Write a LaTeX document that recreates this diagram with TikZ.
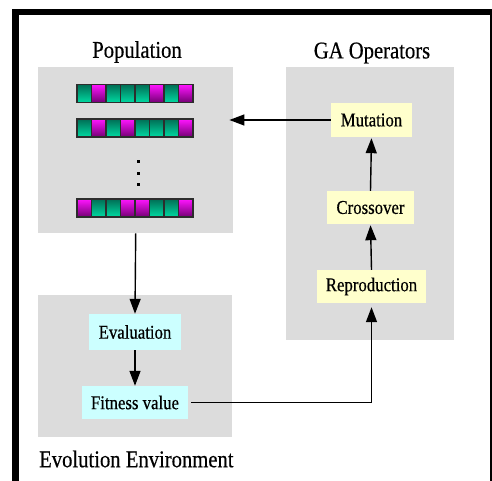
\documentclass[tikz,border=0pt]{standalone}
\usepackage{fontspec}
\setmainfont{Liberation Serif}[FakeBold=0.5]
\usetikzlibrary{arrows.meta,calc}
\definecolor{panelgray}{RGB}{220,220,220}
\definecolor{opyellow}{RGB}{255,255,204}
\definecolor{envcyan}{RGB}{204,255,255}
\definecolor{gtop}{RGB}{0,110,85}
\definecolor{gbot}{RGB}{0,218,162}
\definecolor{mtop}{RGB}{255,20,255}
\definecolor{mbot}{RGB}{115,0,115}
\definecolor{celledge}{RGB}{45,45,45}
\newcommand{\narrowtxt}[1]{\scalebox{0.86}[1]{#1}}
\tikzset{
  panel/.style={fill=panelgray, draw=none, inner sep=0pt, anchor=north west},
  paneltitle/.style={font=\fontsize{24}{28}\selectfont, inner sep=0pt},
  opbox/.style={fill=opyellow, draw=none, inner sep=0pt, font=\fontsize{19.5}{22}\selectfont},
  envbox/.style={fill=envcyan, draw=none, inner sep=0pt, font=\fontsize{19.5}{22}\selectfont},
  flow/.style={line width=1.4pt, -{Triangle[length=15pt,width=11pt]}},
  gcell/.style={top color=gtop, bottom color=gbot, draw=celledge, line width=1.4pt},
  mcell/.style={top color=mtop, bottom color=mbot, draw=celledge, line width=1.4pt},
}
\begin{document}
\begin{tikzpicture}[x=1pt,y=-1pt]
\useasboundingbox (0,0) rectangle (492,481);
% frame
\fill[black] (12,9) rectangle (491.5,15.5);
\fill[black] (12,9) rectangle (19,481);
\fill[black] (489.5,9) rectangle (491.5,481);

% panels
\node[panel, minimum width=195pt, minimum height=166pt] (pop) at (38,67) {};
\node[panel, minimum width=168pt, minimum height=273pt] (ga) at (286,67) {};
\node[panel, minimum width=194pt, minimum height=142pt] (env) at (38,295) {};

% titles
\node[paneltitle] (popt) at (137,52) {\narrowtxt{Population}};
\node[paneltitle] (gat) at (372,53) {\narrowtxt{GA Operators}};
\node[paneltitle, anchor=west] (envt) at (39,459) {\narrowtxt{Evolution Environment}};

% operator boxes
\node[opbox, minimum width=81pt, minimum height=34pt] (mut) at (371.5,120) {\narrowtxt{Mutation}};
\node[opbox, minimum width=87pt, minimum height=33pt] (cross) at (370.5,207.5) {\narrowtxt{Crossover}};
\node[opbox, minimum width=109pt, minimum height=33pt] (repro) at (371.5,286.5) {\narrowtxt{Reproduction}};

% environment boxes
\node[envbox, minimum width=92pt, minimum height=36pt] (eval) at (135,332) {\narrowtxt{Evaluation}};
\node[envbox, minimum width=106pt, minimum height=33pt] (fit) at (135,402.5) {\narrowtxt{Fitness value}};

% chromosomes
\foreach \row/\y/\pat in {1/84.5/{g,m,g,g,g,m,g,m}, 2/119/{g,m,g,m,g,g,g,m}, 3/199/{m,g,g,m,m,g,g,m}} {
  \foreach \c [count=\i from 0] in \pat {
    \path[\c cell] ({77+\i*14.5},\y) rectangle ++(14.5,18);
  }
}
% vertical dots
\foreach \yy in {160,172,183}
  \fill[black] (136.5,\yy) rectangle ++(3,3);

% connectors
\draw[flow] (mut.west) -- ($(pop.east |- mut.west)+(-4,0)$);
\draw[flow] (pop.south) -- (eval.north);
\draw[flow] (eval.south) -- (fit.north);
\draw[flow, shorten <=3pt, shorten >=4pt] (fit.east) -| (repro.south);
\draw[flow, shorten >=1pt] (repro.north) -- (cross.south);
\draw[flow, shorten >=1pt] (cross.north) -- (mut.south);
\end{tikzpicture}
\end{document}
